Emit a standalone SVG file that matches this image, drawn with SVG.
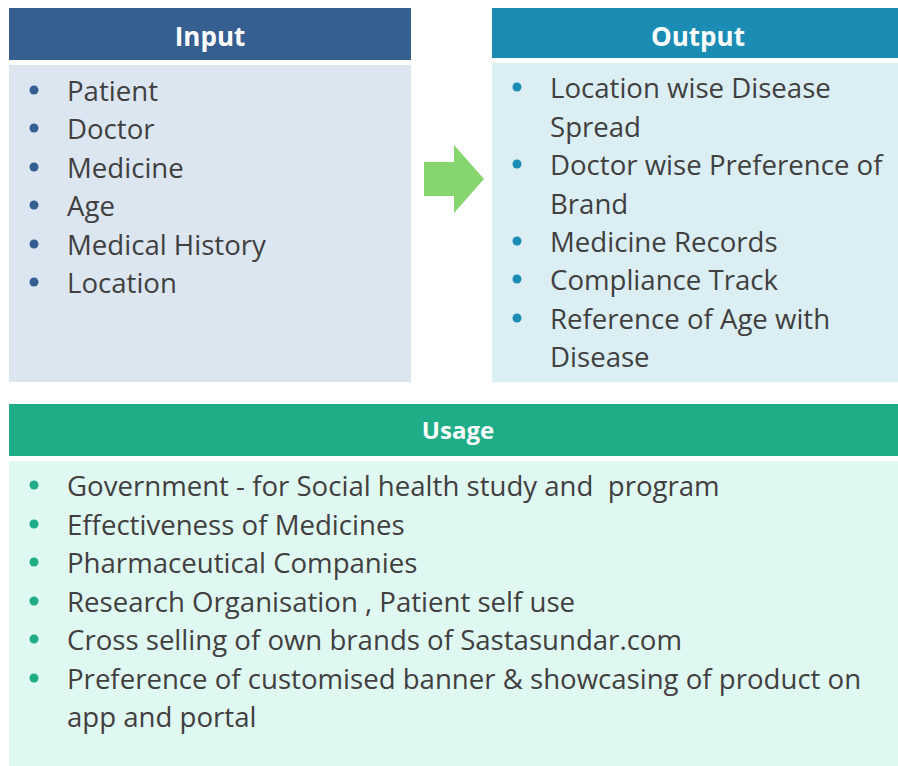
<svg xmlns="http://www.w3.org/2000/svg" width="898" height="766" viewBox="0 0 898 766">
<style>
.hd{font-family:"Open Sans","Liberation Sans",sans-serif;font-weight:bold;fill:#ffffff;text-anchor:middle}
.t{font-family:"Open Sans","Liberation Sans",sans-serif;font-size:27.6px;fill:#404040}
</style>
<rect width="898" height="766" fill="#ffffff"/>
<g id="input">
<rect x="9" y="8" width="402" height="52" fill="#365f91"/>
<rect x="9" y="65" width="402" height="317" fill="#dce6f1"/>
<text class="hd" x="210" y="46" font-size="26">Input</text>
<g fill="#365f91"><circle cx="34" cy="90" r="4.5"/><circle cx="34" cy="128" r="4.5"/><circle cx="34" cy="167" r="4.5"/><circle cx="34" cy="205" r="4.5"/><circle cx="34" cy="244" r="4.5"/><circle cx="34" cy="282" r="4.5"/></g>
<text class="t" x="67" y="101">Patient</text>
<text class="t" x="67" y="139">Doctor</text>
<text class="t" x="67" y="178">Medicine</text>
<text class="t" x="67" y="216">Age</text>
<text class="t" x="67" y="255">Medical History</text>
<text class="t" x="67" y="293">Location</text>
</g>
<g id="output">
<rect x="492" y="8" width="406" height="50" fill="#1b8cb3"/>
<rect x="492" y="63" width="406" height="319" fill="#dbeef4"/>
<text class="hd" x="698" y="46" font-size="26">Output</text>
<g fill="#1b8cb3"><circle cx="517" cy="87" r="4.5"/><circle cx="517" cy="164" r="4.5"/><circle cx="517" cy="241" r="4.5"/><circle cx="517" cy="279" r="4.5"/><circle cx="517" cy="318" r="4.5"/></g>
<text class="t" x="550" y="98">Location wise Disease</text>
<text class="t" x="550" y="137">Spread</text>
<text class="t" x="550" y="175">Doctor wise Preference of</text>
<text class="t" x="550" y="214">Brand</text>
<text class="t" x="550" y="252">Medicine Records</text>
<text class="t" x="550" y="290">Compliance Track</text>
<text class="t" x="550" y="329">Reference of Age with</text>
<text class="t" x="550" y="367">Disease</text>
</g>
<g id="usage">
<rect x="9" y="404" width="889" height="52" fill="#1fad87"/>
<rect x="9" y="461" width="889" height="305" fill="#e0f8f2"/>
<text class="hd" x="458" y="439" font-size="24">Usage</text>
<g fill="#1fad87"><circle cx="34" cy="485" r="4.5"/><circle cx="34" cy="524" r="4.5"/><circle cx="34" cy="562" r="4.5"/><circle cx="34" cy="601" r="4.5"/><circle cx="34" cy="639" r="4.5"/><circle cx="34" cy="678" r="4.5"/></g>
<text class="t" x="67" y="496" xml:space="preserve">Government - for Social health study and  program</text>
<text class="t" x="67" y="535">Effectiveness of Medicines</text>
<text class="t" x="67" y="573">Pharmaceutical Companies</text>
<text class="t" x="67" y="612">Research Organisation , Patient self use</text>
<text class="t" x="67" y="650">Cross selling of own brands of Sastasundar.com</text>
<text class="t" x="67" y="689">Preference of customised banner &amp; showcasing of product on</text>
<text class="t" x="67" y="727">app and portal</text>
</g>
<g id="connectors">
<polygon points="424,162 454,162 454,145 484,179 454,213 454,196 424,196" fill="#86d56f"/>
</g>
</svg>
